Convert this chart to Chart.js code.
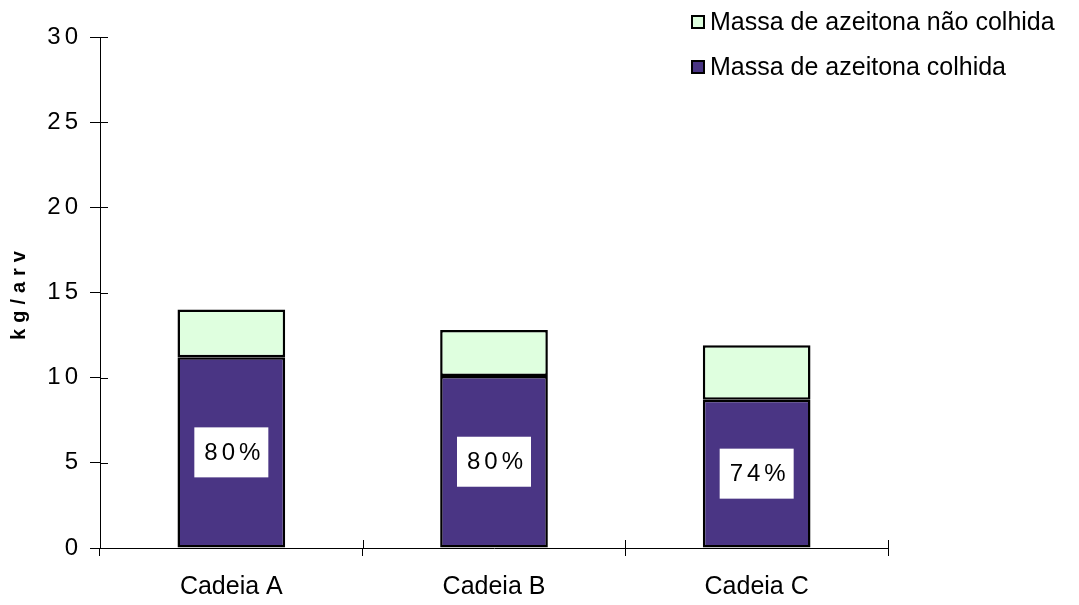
<!DOCTYPE html>
<html lang="pt">
<head>
    <meta charset="UTF-8">
    <title>Massa de azeitona por cadeia</title>
    <script src="https://cdn.jsdelivr.net/npm/chart.js"></script>
    <style>
        html, body { margin: 0; padding: 0; background: #fff; }
        #wrap { width: 1079px; height: 605px; }
    </style>
</head>
<body>
<div id="wrap"><canvas id="oliveChart" width="1079" height="605"></canvas></div>

<script>
    // values (kg/arv)
    const cadeias = ['Cadeia A', 'Cadeia B', 'Cadeia C'];
    const colhida = [11.2, 10.1, 8.7];
    const naoColhida = [2.8, 2.7, 3.2];
    const percentLabels = ['80%', '80%', '74%'];
    const yTicks = [0, 5, 10, 15, 20, 25, 30];

    const fontFamily = '"Liberation Sans", Arial, sans-serif';

    // the y axis numbers and title are letter-spaced in the original
    const spacedYAxis = {
        id: 'spacedYAxis',
        afterLayout(chart) {
            const s = chart.scales.y;
            if (s._spaced) return;
            s._spaced = true;
            const labels = s.drawLabels, title = s.drawTitle;
            s.drawLabels = function (area) {
                this.ctx.save();
                this.ctx.letterSpacing = '4px';
                labels.call(this, area);
                this.ctx.restore();
            };
            s.drawTitle = function () {
                this.ctx.save();
                this.ctx.letterSpacing = '6px';
                title.call(this);
                this.ctx.restore();
            };
        }
    };

    // little ticks on the inner side of both axes
    const innerTicks = {
        id: 'innerTicks',
        afterDraw(chart) {
            const ctx = chart.ctx;
            const x = chart.scales.x, y = chart.scales.y;
            ctx.save();
            ctx.strokeStyle = '#000';
            ctx.lineWidth = 1;
            ctx.beginPath();
            yTicks.forEach(v => {
                const py = Math.round(y.getPixelForValue(v)) + 0.5;
                ctx.moveTo(x.left, py);
                ctx.lineTo(x.left + 8, py);
            });
            const step = x.width / cadeias.length;
            for (let i = 0; i <= cadeias.length; i++) {
                const px = Math.round(x.left + i * step) + 0.5;
                ctx.moveTo(px, y.bottom);
                ctx.lineTo(px, y.bottom - 8);
            }
            ctx.stroke();
            ctx.restore();
        }
    };

    // white boxes with the percentage harvested
    const percentBoxes = {
        id: 'percentBoxes',
        afterDatasetsDraw(chart) {
            const ctx = chart.ctx;
            const meta = chart.getDatasetMeta(0);
            ctx.save();
            ctx.font = '24px ' + fontFamily;
            ctx.letterSpacing = '4px';
            ctx.textAlign = 'center';
            ctx.textBaseline = 'middle';
            meta.data.forEach((bar, i) => {
                const cx = bar.x;
                const cy = (bar.y + bar.base) / 2;
                ctx.fillStyle = '#fff';
                ctx.fillRect(cx - 37, cy - 25, 74, 50);
                ctx.fillStyle = '#000';
                ctx.fillText(percentLabels[i], cx + 3, cy + 1);
            });
            ctx.restore();
        }
    };

    // legend stacked in the top right corner, top series first
    const cornerLegend = {
        id: 'cornerLegend',
        afterDraw(chart) {
            const ctx = chart.ctx;
            const items = chart.data.datasets.slice().reverse();
            ctx.save();
            ctx.font = '25px ' + fontFamily;
            ctx.textBaseline = 'middle';
            items.forEach((ds, i) => {
                const cy = 22 + i * 45;
                ctx.fillStyle = ds.backgroundColor;
                ctx.fillRect(692, cy - 6, 12, 12);
                ctx.strokeStyle = '#000';
                ctx.lineWidth = 2;
                ctx.strokeRect(692, cy - 6, 12, 12);
                ctx.fillStyle = '#000';
                ctx.fillText(ds.label, 710, cy + 1);
            });
            ctx.restore();
        }
    };

    const ctx = document.getElementById('oliveChart').getContext('2d');
    new Chart(ctx, {
        type: 'bar',
        data: {
            labels: cadeias,
            datasets: [{
                label: 'Massa de azeitona colhida',
                data: colhida,
                backgroundColor: '#4a3584',
                borderColor: '#000',
                borderWidth: 2.5,
                borderSkipped: false,
                barPercentage: 0.41,
                categoryPercentage: 1
            }, {
                label: 'Massa de azeitona não colhida',
                data: naoColhida,
                backgroundColor: '#dfffdf',
                borderColor: '#000',
                borderWidth: 2.5,
                borderSkipped: false,
                barPercentage: 0.41,
                categoryPercentage: 1
            }]
        },
        options: {
            responsive: false,
            animation: false,
            layout: { padding: { left: 0, right: 191, top: 37, bottom: 0 } },
            plugins: {
                legend: { display: false },
                tooltip: { enabled: false }
            },
            scales: {
                x: {
                    stacked: true,
                    grid: { drawOnChartArea: false, tickLength: 8, color: '#000' },
                    border: { color: '#000', width: 1 },
                    ticks: { color: '#000', padding: 16, font: { family: fontFamily, size: 25 } },
                    afterFit(scale) { scale.height = 57; }
                },
                y: {
                    stacked: true,
                    min: 0,
                    max: 30,
                    afterBuildTicks(scale) { scale.ticks = yTicks.map(v => ({ value: v })); },
                    grid: { drawOnChartArea: false, tickLength: 10, color: '#000' },
                    border: { color: '#000', width: 1 },
                    ticks: { color: '#000', padding: 8, font: { family: fontFamily, size: 24 } },
                    title: {
                        display: true,
                        text: 'kg/arv',
                        color: '#000',
                        padding: { top: 7, bottom: 0 },
                        font: { family: fontFamily, size: 20, weight: 'bold' }
                    },
                    afterFit(scale) { scale.width = 100; }
                }
            }
        },
        plugins: [spacedYAxis, innerTicks, percentBoxes, cornerLegend]
    });
</script>
</body>
</html>
